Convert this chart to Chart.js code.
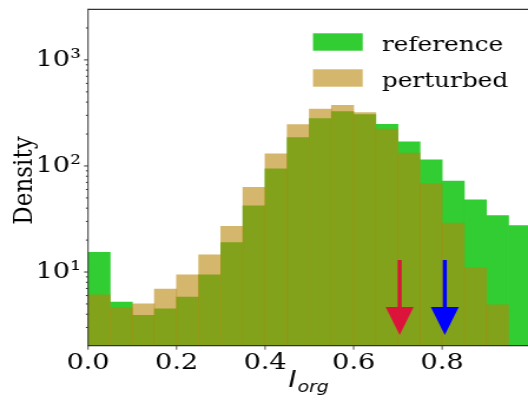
<!DOCTYPE html>
<html><head><meta charset="utf-8">
<script src="https://cdn.jsdelivr.net/npm/chart.js@4/dist/chart.umd.min.js"></script>
<style>
html,body{margin:0;padding:0;background:#fff;overflow:hidden;width:528px;height:407px}
#wrap{position:absolute;left:0;top:0;width:448px;height:407px;transform:scaleX(1.178571);transform-origin:0 0}
canvas{display:block}
</style></head><body>
<div id="wrap"><canvas id="c" width="448" height="407" style="width:448px;height:407px"></canvas></div>
<script>
// ---- data ----
const binCenters = [0.025,0.075,0.125,0.175,0.225,0.275,0.325,0.375,0.425,0.475,0.525,0.575,0.625,0.675,0.725,0.775,0.825,0.875,0.925,0.975];
const referenceValues = [15.3,5.2,3.9,4.5,5.8,9.4,18.9,42,94,185,279,325,305,247,169,114,72,48,34,27.4];
const perturbedValues = [6.1,4.6,5.0,6.9,9.4,14.5,27,63,130,245,343,374,318,223,132,68,29,11,4.9,null];
const seriesLabels = ['reference','perturbed'];
const xTickValues = [0,0.2,0.4,0.6,0.8];
const yMajorTicks = [10,100,1000];
const yMajorLabels = ['10\u00b9','10\u00b2','10\u00b3'];
const yMinorTicks = [3,4,5,6,7,8,9,20,30,40,50,60,70,80,90,200,300,400,500,600,700,800,900,2000];
const arrowX = [0.704,0.806];
const arrowTopValue = 13;
const arrowTipValue = 2.55;
const arrowColors = ['#DC143C','#0000FF'];

const SX = 528/448; // horizontal stretch of the picture
const SPINE = '#333';

const overlay = {
  id: 'overlay',
  afterDatasetsDraw(chart) {
    const {ctx, chartArea: a, scales: {x, y}} = chart;
    ctx.save();
    // arrows
    arrowX.forEach((v, i) => {
      const px = x.getPixelForValue(v);
      const yTop = y.getPixelForValue(arrowTopValue);
      const yTip = y.getPixelForValue(arrowTipValue);
      const headLen = 28, headHalf = 14 / SX, shaftHalf = 2 / SX;
      ctx.fillStyle = arrowColors[i];
      ctx.beginPath();
      ctx.moveTo(px - shaftHalf, yTop);
      ctx.lineTo(px + shaftHalf, yTop);
      ctx.lineTo(px + shaftHalf, yTip - headLen);
      ctx.lineTo(px + headHalf, yTip - headLen);
      ctx.lineTo(px, yTip);
      ctx.lineTo(px - headHalf, yTip - headLen);
      ctx.lineTo(px - shaftHalf, yTip - headLen);
      ctx.closePath();
      ctx.fill();
    });
    // spines
    ctx.strokeStyle = SPINE;
    ctx.lineWidth = 1.2;
    ctx.beginPath();
    ctx.moveTo(a.left, a.top); ctx.lineTo(a.right, a.top);
    ctx.moveTo(a.left, a.bottom); ctx.lineTo(a.right, a.bottom);
    ctx.stroke();
    ctx.lineWidth = 1.2 / SX;
    ctx.beginPath();
    ctx.moveTo(a.left, a.top - 0.6); ctx.lineTo(a.left, a.bottom + 0.6);
    ctx.stroke();
    // y ticks
    ctx.lineWidth = 1;
    ctx.beginPath();
    yMajorTicks.forEach(v => { const py = y.getPixelForValue(v); ctx.moveTo(a.left - 4 / SX, py); ctx.lineTo(a.left, py); });
    yMinorTicks.forEach(v => { const py = y.getPixelForValue(v); ctx.moveTo(a.left - 2.2 / SX, py); ctx.lineTo(a.left, py); });
    ctx.stroke();
    // x ticks
    ctx.lineWidth = 1 / SX;
    ctx.beginPath();
    xTickValues.forEach(v => { const px = x.getPixelForValue(v); ctx.moveTo(px, a.bottom); ctx.lineTo(px, a.bottom + 4); });
    ctx.stroke();
    ctx.restore();
  },
  afterDraw(chart) {
    const {ctx, chartArea: a} = chart;
    ctx.save();
    ctx.fillStyle = '#000';
    // y label
    ctx.save();
    ctx.translate(26.9, (a.top + a.bottom) / 2 + 3);
    ctx.rotate(-Math.PI / 2);
    ctx.font = '23px "DejaVu Serif"';
    ctx.textAlign = 'center';
    ctx.textBaseline = 'alphabetic';
    ctx.fillText('Density', 0, 0);
    ctx.restore();
    // x label  I_org
    const big = 'italic 23px "DejaVu Sans"', small = 'italic 16px "DejaVu Sans"';
    ctx.font = big; const wI = ctx.measureText('I').width;
    ctx.font = small; const wS = ctx.measureText('org').width;
    const cx = (a.left + a.right) / 2;
    const x0 = cx - (wI + wS) / 2;
    ctx.textAlign = 'left';
    ctx.textBaseline = 'alphabetic';
    ctx.font = big; ctx.fillText('I', x0, 387);
    ctx.font = small; ctx.fillText('org', x0 + wI + 1, 392);
    // legend
    chart.data.datasets.forEach((ds, i) => {
      const sy = 33.3 + i * 36;
      ctx.fillStyle = ds.backgroundColor;
      ctx.fillRect(313 / SX, sy, 49.7 / SX, 17.4);
      ctx.fillStyle = '#000';
      ctx.font = '21px "DejaVu Serif"';
      ctx.fillText(ds.label, 324, sy + 17.2);
    });
    ctx.restore();
  }
};

new Chart(document.getElementById('c'), {
  type: 'bar',
  data: {
    datasets: [
      { label: seriesLabels[0], data: binCenters.map((c, i) => ({x: c, y: referenceValues[i]})),
        backgroundColor: 'rgb(50,205,50)', borderWidth: 0, grouped: false, order: 1,
        barPercentage: 1, categoryPercentage: 1 },
      { label: seriesLabels[1], data: binCenters.map((c, i) => ({x: c, y: perturbedValues[i]})),
        backgroundColor: 'rgba(184,134,11,0.6)', borderWidth: 0, grouped: false, order: 0,
        barPercentage: 1, categoryPercentage: 1 }
    ]
  },
  options: {
    responsive: false,
    devicePixelRatio: 1,
    animation: false,
    layout: { padding: { top: 9.3, right: 0, left: 0, bottom: 0 } },
    plugins: { legend: { display: false }, tooltip: { enabled: false } },
    scales: {
      x: {
        type: 'linear', min: 0, max: 0.994, offset: false,
        grid: { display: false, drawTicks: false, offset: false },
        border: { display: false },
        ticks: { stepSize: 0.2, includeBounds: false, padding: 4, color: '#000', maxRotation: 0, autoSkip: false,
                 font: { family: 'DejaVu Serif', size: 23 },
                 callback: v => xTickValues.some(t => Math.abs(t - v) < 1e-9) ? v.toFixed(1) : null },
        afterFit: s => { s.height = 61.3; s.paddingLeft = 0; s.paddingRight = 0; }
      },
      y: {
        type: 'logarithmic', min: 2.02, max: 3000,
        grid: { display: false, drawTicks: false },
        border: { display: false },
        afterBuildTicks: s => { s.ticks = yMajorTicks.map(v => ({value: v, major: true})); },
        ticks: { padding: 6, color: '#000', autoSkip: false,
                 font: { family: 'DejaVu Serif', size: 23 },
                 callback: (v) => { const k = yMajorTicks.indexOf(v); return k >= 0 ? yMajorLabels[k] : null; } },
        afterFit: s => { s.width = 74.7; s.paddingTop = 0; s.paddingBottom = 0; }
      }
    }
  },
  plugins: [overlay]
});
</script>
</body></html>
